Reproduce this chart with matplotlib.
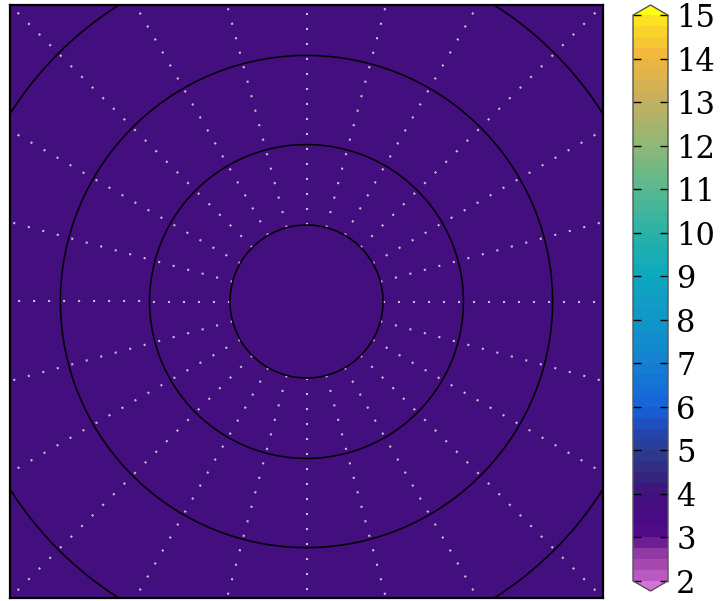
import numpy as np
import matplotlib
matplotlib.use("Agg")
import matplotlib.pyplot as plt
from matplotlib.colors import LinearSegmentedColormap, BoundaryNorm

plt.rcParams['font.family'] = ['DejaVu Serif']

# Field (constant surface value over the polar cap)
field_value = 3.9
lons = np.arange(0, 361, 5)
lats = np.arange(30, 91, 2.5)

# Graticule
parallels = [80, 70, 60, 50]
meridians = np.arange(0, 360, 15)
meridian_start_lat = 80

# Colour scale
levels = np.arange(2.0, 15.01, 0.25)
cbar_ticks = list(range(2, 16))
cmap_anchors = [
    (2.0, '#cc68cc'), (2.5, '#a448b0'), (2.95, '#7a2896'),
    (3.0, '#560a8c'), (3.5, '#4a0a84'), (4.0, '#420e7e'),
    (4.5, '#34267e'), (5.0, '#2c3a8e'), (5.5, '#2548b2'),
    (6.0, '#1660da'), (7.0, '#1480d2'), (8.0, '#1296c8'),
    (9.0, '#0ca8bf'), (10.0, '#2ab2a6'), (11.0, '#5cb98e'),
    (12.0, '#92b776'), (13.0, '#c9b05e'), (14.0, '#f2b93a'),
    (15.0, '#fff01a'),
]


def project(lon, lat):
    """Azimuthal north-polar projection (radius grows as tan of 0.9 x colatitude)."""
    r = np.tan(np.radians(0.9 * (90.0 - lat)))
    th = np.radians(lon)
    return r * np.sin(th), -r * np.cos(th)


vmin, vmax = cmap_anchors[0][0], cmap_anchors[-1][0]
cmap = LinearSegmentedColormap.from_list(
    'field', [((v - vmin) / (vmax - vmin), c) for v, c in cmap_anchors], N=512)
cmap.set_under('#d672d6')
cmap.set_over('#ffff14')
norm = BoundaryNorm(levels, cmap.N, extend='both')

fig = plt.figure(figsize=(7.26, 6.01), dpi=100)
W, H = 726, 601
ax = fig.add_axes([10 / W, 3 / H, 593 / W, 593 / H])
cax = fig.add_axes([633 / W, 10 / H, 35 / W, 586 / H])

LON, LAT = np.meshgrid(lons, lats)
X, Y = project(LON, LAT)
Z = np.full(LON.shape, field_value)
cs = ax.contourf(X, Y, Z, levels=levels, cmap=cmap, norm=norm, extend='both')

# parallels
lon_fine = np.linspace(0, 360, 721)
for p in parallels:
    px, py = project(lon_fine, np.full_like(lon_fine, p))
    ax.plot(px, py, color='black', lw=1.1, zorder=3)

# meridians
lat_line = np.linspace(meridian_start_lat, 20, 200)
for m in meridians:
    mx, my = project(np.full_like(lat_line, m), lat_line)
    ax.plot(mx, my, color='#c8bed4', lw=1.5, linestyle=(0, (1.0, 6.2)), zorder=2)

half = 0.6139
ax.set_xlim(-half, half)
ax.set_ylim(-half, half)
ax.set_aspect('equal', adjustable='box')
ax.set_xticks([])
ax.set_yticks([])
for s in ax.spines.values():
    s.set_linewidth(1.6)
    s.set_color('black')

cb = fig.colorbar(cs, cax=cax, ticks=cbar_ticks, extendfrac=0.018)
cb.minorticks_off()
cb.outline.set_edgecolor('#555555')
cb.outline.set_linewidth(1.0)
cax.tick_params(direction='in', left=True, right=True, length=6, width=1,
                labelsize=22, pad=6, color='black')
cax.set_yticklabels([str(t) for t in cbar_ticks])

fig.savefig('out.png', dpi=100)
